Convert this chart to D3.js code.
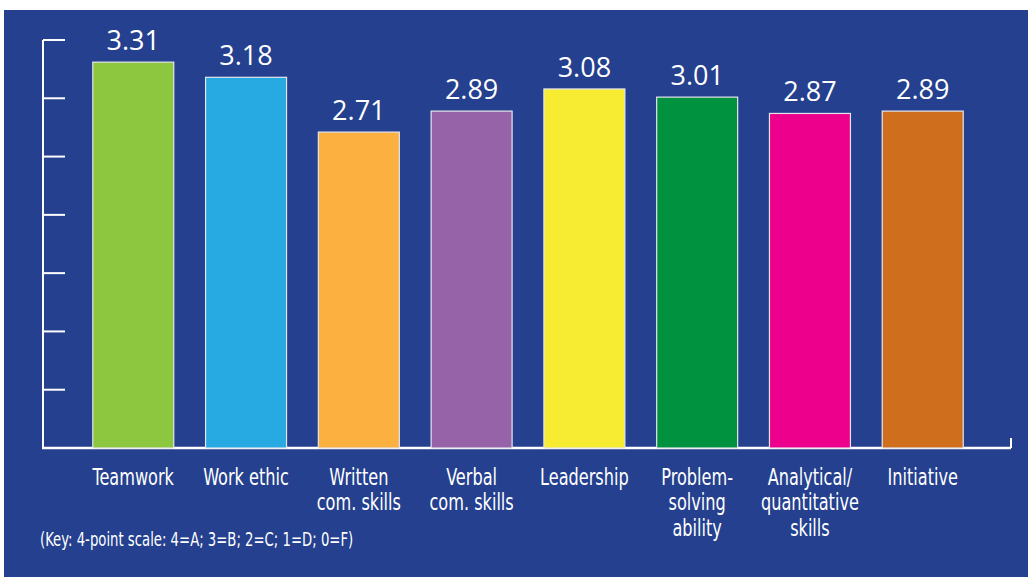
<!DOCTYPE html>
<html><head><meta charset="utf-8">
<script src="https://cdn.jsdelivr.net/npm/d3@7"></script>
<style>html,body{margin:0;padding:0;background:#fff;}svg{display:block;}</style>
</head><body>
<script>
const categories = [["Teamwork"],["Work ethic"],["Written","com. skills"],["Verbal","com. skills"],["Leadership"],["Problem-","solving","ability"],["Analytical/","quantitative","skills"],["Initiative"]];
const values = [3.31, 3.18, 2.71, 2.89, 3.08, 3.01, 2.87, 2.89];
const valueLabels = ["3.31","3.18","2.71","2.89","3.08","3.01","2.87","2.89"];
const colors = ["#8dc63f","#27aae1","#fbb040","#9662a8","#f7ec32","#00923f","#ec008c","#cf6f1d"];
const yTicks = [0.5,1,1.5,2,2.5,3,3.5];
const keyText = "(Key: 4-point scale: 4=A; 3=B; 2=C; 1=D; 0=F)";

const W = 1028, H = 577;
const svg = d3.select("body").append("svg").attr("width", W).attr("height", H);
svg.append("rect").attr("x",4).attr("y",10).attr("width",W-4).attr("height",H-10).attr("fill","#24408e");

const x0 = 43, x1 = 1011, yBase = 448, yTop = 40;
const y = d3.scaleLinear().domain([0,3.5]).range([yBase, yTop]);
const x = d3.scaleBand().domain(d3.range(values.length)).range([77, 979]).paddingInner(0.282).paddingOuter(0.14);
const condFont = "'DejaVu Sans Condensed', 'Liberation Sans Narrow', sans-serif";

// axes
const g = svg.append("g");
g.append("line").attr("x1",x0).attr("x2",x0).attr("y1",yTop).attr("y2",yBase).attr("stroke","#fff").attr("stroke-width",2);
g.selectAll(".tk").data(yTicks).join("line").attr("class","tk")
  .attr("x1",x0).attr("x2",x0+22).attr("y1",d=>y(d)).attr("y2",d=>y(d)).attr("stroke","#fff").attr("stroke-width",2);

// bars
svg.selectAll(".bar").data(values).join("rect").attr("class","bar")
  .attr("x",(d,i)=>x(i)).attr("width",x.bandwidth())
  .attr("y",d=>y(d)).attr("height",d=>yBase-y(d))
  .attr("fill",(d,i)=>colors[i]).attr("stroke","#e6e6ee").attr("stroke-width",1.2);

g.append("line").attr("x1",x0-1).attr("x2",x1).attr("y1",yBase).attr("y2",yBase).attr("stroke","#fff").attr("stroke-width",2.5);
g.append("line").attr("x1",x1).attr("x2",x1).attr("y1",yBase).attr("y2",yBase-10).attr("stroke","#fff").attr("stroke-width",2);

// value labels
svg.selectAll(".vl").data(values).join("text").attr("class","vl")
  .attr("x",(d,i)=>x(i)+x.bandwidth()/2).attr("y",d=>y(d)-12)
  .attr("text-anchor","middle").attr("fill","#fff")
  .attr("font-family","'Open Sans', 'Noto Sans', sans-serif").attr("font-size",27)
  .text((d,i)=>valueLabels[i]);

// category labels
const cl = svg.selectAll(".cl").data(categories).join("text").attr("class","cl")
  .attr("text-anchor","middle").attr("fill","#fff")
  .attr("font-family",condFont).attr("font-size",23)
  .attr("transform",(d,i)=>`translate(${x(i)+x.bandwidth()/2},485) scale(0.78,1)`);
cl.selectAll("tspan").data(d=>d).join("tspan").attr("x",0).attr("y",(d,j)=>j*25.5).text(d=>d);

svg.append("text").attr("fill","#fff")
  .attr("transform","translate(40,546) scale(0.775,1)")
  .attr("font-family",condFont).attr("font-size",19)
  .text(keyText);
</script>
</body></html>
